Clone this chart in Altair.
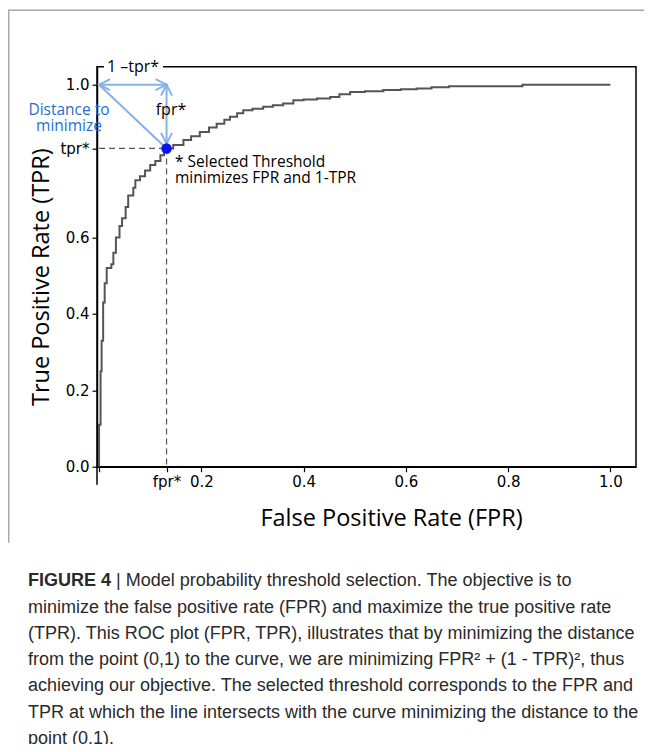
import altair as alt
import pandas as pd

# ---------------- data ----------------
fpr = [0.0, 0.0, 0.003, 0.005, 0.008, 0.011, 0.015, 0.024, 0.028, 0.033, 0.040,
       0.045, 0.052, 0.057, 0.067, 0.071, 0.080, 0.090, 0.100, 0.110, 0.120,
       0.127, 0.132, 0.145, 0.165, 0.180, 0.197, 0.215, 0.230, 0.245, 0.256,
       0.270, 0.282, 0.300, 0.321, 0.340, 0.360, 0.380, 0.400, 0.426, 0.452,
       0.470, 0.491, 0.520, 0.556, 0.590, 0.621, 0.650, 0.684, 0.828, 1.0]
tpr = [0.0, 0.11, 0.25, 0.33, 0.43, 0.48, 0.52, 0.53, 0.56, 0.60, 0.63,
       0.65, 0.68, 0.71, 0.73, 0.75, 0.76, 0.775, 0.79, 0.80, 0.815,
       0.825, 0.833, 0.842, 0.855, 0.865, 0.876, 0.888, 0.898, 0.908, 0.916,
       0.925, 0.933, 0.937, 0.942, 0.946, 0.951, 0.959, 0.961, 0.964, 0.968,
       0.975, 0.981, 0.983, 0.986, 0.988, 0.990, 0.993, 0.996, 1.0, 1.0]

fpr_star = 0.132
tpr_star = 0.833
arrow_tip_y = 0.845

x_ticks = [0.0, fpr_star, 0.2, 0.4, 0.6, 0.8, 1.0]
y_ticks = [0.0, 0.2, 0.4, 0.6, tpr_star, 1.0]

x_title = "False Positive Rate (FPR)"
y_title = "True Positive Rate (TPR)"

caption_bold = "FIGURE 4"
caption_lines = [
    "| Model probability threshold selection. The objective is to",
    "minimize the false positive rate (FPR) and maximize the true positive rate",
    "(TPR). This ROC plot (FPR, TPR), illustrates that by minimizing the distance",
    "from the point (0,1) to the curve, we are minimizing FPR\u00b2 + (1 - TPR)\u00b2, thus",
    "achieving our objective. The selected threshold corresponds to the FPR and",
    "TPR at which the line intersects with the curve minimizing the distance to the",
    "point (0,1).",
]

# ---------------- chart ----------------
W, H = 539, 400
XS = alt.Scale(domain=[-0.004, 1.05], nice=False, zero=False)
YS = alt.Scale(domain=[0.0, 1.047], nice=False, zero=False)

BLUE_LIGHT = "#86b2e6"
BLUE_TEXT = "#1f6fc8"
GRAY = "#555555"

roc = pd.DataFrame({"fpr": fpr, "tpr": tpr, "order": list(range(len(fpr)))})

x_axis = alt.Axis(
    values=x_ticks,
    labelExpr="datum.value == 0 ? '' : (datum.value < 0.15 ? 'fpr*' : format(datum.value, '.1f'))",
    grid=False, domainColor="black", domainWidth=1.5, tickColor="black", tickSize=5,
    tickWidth=1.2, labelFont="DejaVu Sans", labelFontSize=15, labelColor="black",
    labelPadding=3, labelOverlap=False, labelFlush=False,
    titleFont="Open Sans", titleFontSize=23.5, titleFontWeight="normal", titleColor="black",
    titleX=294, titleY=52, titleAlign="center", titleBaseline="middle",
)
y_axis = alt.Axis(
    values=y_ticks,
    labelExpr="(datum.value > 0.7 && datum.value < 0.9) ? 'tpr*' : format(datum.value, '.1f')",
    grid=False, domainColor="black", domainWidth=1.5, tickColor="black", tickSize=5,
    tickWidth=1.2, labelFont="DejaVu Sans", labelFontSize=15, labelColor="black",
    labelPadding=3, labelOverlap=False, labelFlush=False,
    titleFont="Open Sans", titleFontSize=23.5, titleFontWeight="normal", titleColor="black",
    titleX=-56, titleY=210, titleAngle=-90, titleAlign="center", titleBaseline="middle",
)

curve = alt.Chart(roc).mark_line(color=GRAY, strokeWidth=2, interpolate="step-after").encode(
    x=alt.X("fpr:Q", scale=XS, axis=x_axis, title=x_title),
    y=alt.Y("tpr:Q", scale=YS, axis=y_axis, title=y_title),
    order="order:Q",
)

guides_df = pd.DataFrame({"x": [0.0, fpr_star], "x2": [fpr_star, fpr_star],
                          "y": [tpr_star, tpr_star], "y2": [tpr_star, 0.0]})
guides = alt.Chart(guides_df).mark_rule(color=GRAY, strokeWidth=1.2, strokeDash=[6, 4]).encode(
    x="x:Q", x2="x2:Q", y="y:Q", y2="y2:Q")

arrows_df = pd.DataFrame({"x": [0.0, fpr_star, 0.0], "x2": [fpr_star, fpr_star, fpr_star],
                          "y": [1.0, 1.0, 1.0], "y2": [1.0, arrow_tip_y, tpr_star]})
arrows = alt.Chart(arrows_df).mark_rule(color=BLUE_LIGHT, strokeWidth=2).encode(
    x="x:Q", x2="x2:Q", y="y:Q", y2="y2:Q")

heads_df = pd.DataFrame({"x": [0.0, fpr_star, fpr_star, fpr_star],
                         "y": [1.0, 1.0, 1.0, arrow_tip_y],
                         "angle": [180, 0, 270, 90]})
heads = alt.Chart(heads_df).mark_point(
    shape="M -2 -1 L 0 0 L -2 1", filled=False, size=121, strokeWidth=2,
    color=BLUE_LIGHT, opacity=1,
).encode(x="x:Q", y="y:Q", angle=alt.Angle("angle:Q", scale=None))

dot = alt.Chart(pd.DataFrame({"x": [fpr_star], "y": [tpr_star]})).mark_circle(
    size=110, color="#0a14f0", opacity=1).encode(x="x:Q", y="y:Q")

one = pd.DataFrame({"a": [0]})

def label(text, x, y, **kw):
    return alt.Chart(one).mark_text(text=text, **kw).encode(x=alt.value(x), y=alt.value(y))

# white gap in the top frame behind "1 -tpr*"
gap = alt.Chart(one).mark_rect(color="white").encode(
    x=alt.value(7), x2=alt.value(66), y=alt.value(-7), y2=alt.value(7))

txt_top = label("1 \u2013tpr*", 36, 0, font="Open Sans", fontSize=16, align="center",
                baseline="middle", color="black")
txt_fpr = label("fpr*", 74, 43, font="Open Sans", fontSize=16, align="center",
                baseline="middle", color="black")
txt_dist = label("Distance to\nminimize", -28, 43.5, font="Open Sans", fontSize=15.5,
                 align="center", baseline="middle", color=BLUE_TEXT, lineBreak="\n",
                 lineHeight=16)
txt_sel = label("* Selected Threshold\nminimizes FPR and 1-TPR", 78, 95, font="Open Sans",
                fontSize=15.5, align="left", baseline="middle", color="black",
                lineBreak="\n", lineHeight=16)

# axis line continuing below the x axis
axis_ext = alt.Chart(one).mark_rule(color="black", strokeWidth=1.5).encode(
    x=alt.value(0), y=alt.value(H), y2=alt.value(H + 18))

# figure frame (top and left)
frame_top = alt.Chart(one).mark_rule(color="#a8a8a8", strokeWidth=1.5).encode(
    x=alt.value(-89), x2=alt.value(W + 8), y=alt.value(-56.5))
frame_left = alt.Chart(one).mark_rule(color="#a8a8a8", strokeWidth=1.5).encode(
    x=alt.value(-88.3), y=alt.value(-56.5), y2=alt.value(476))

# caption
CAP_FONT = "Liberation Sans"
CAP_SIZE = 18
CAP_COLOR = "#2a2a2a"
cap_x = -69
cap_y0 = 514.5
cap_dy = 26.3
caption_layers = [label(caption_bold, cap_x, cap_y0, font=CAP_FONT, fontSize=CAP_SIZE,
                        fontWeight="bold", align="left", baseline="middle", color=CAP_COLOR)]
for i, line in enumerate(caption_lines):
    x0 = cap_x + (88 if i == 0 else 0)
    caption_layers.append(label(line, x0, cap_y0 + i * cap_dy, font=CAP_FONT, fontSize=CAP_SIZE,
                                align="left", baseline="middle", color=CAP_COLOR))

chart = alt.layer(
    frame_top, frame_left, axis_ext, guides, arrows, heads, curve, dot,
    gap, txt_top, txt_fpr, txt_dist, txt_sel, *caption_layers,
).properties(
    width=W, height=H,
    background="white",
    autosize=alt.AutoSizeParams(type="none"),
    padding={"left": 89, "top": 58.7, "right": 8, "bottom": 277.3},
).configure_view(stroke="black", strokeWidth=1.5)

chart.save("out.html", embed_options={"renderer": "svg", "actions": False})
